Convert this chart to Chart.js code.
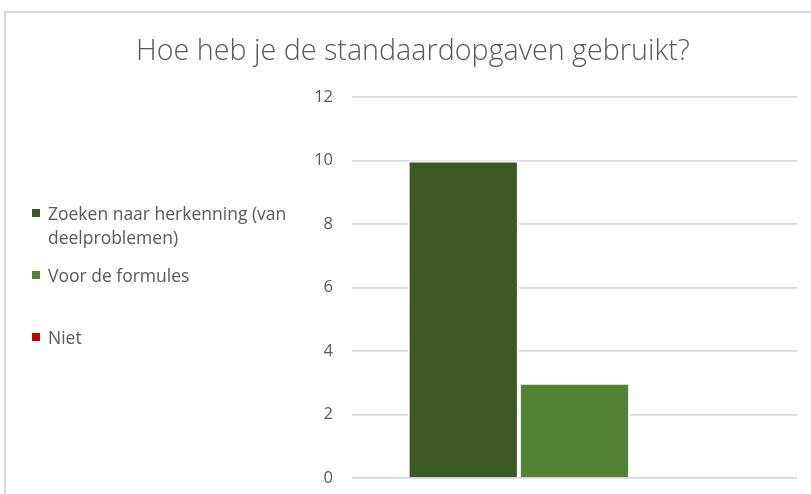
<!DOCTYPE html>
<html>
<head>
<meta charset="utf-8">
<script src="https://cdn.jsdelivr.net/npm/chart.js@4"></script>
<style>
  body { margin: 0; background: #fff; font-family: "Open Sans", sans-serif; overflow: hidden; }
  #frame { position: absolute; left: 4px; top: 11px; width: 900px; height: 600px; border: 2px solid #d9d9d9; }
  #wrap { position: absolute; left: 0; top: 0; width: 811px; height: 507px; }
  #legend { position: absolute; left: 32px; top: 201px; width: 275px; color: #595959; font-size: 17.5px; }
  .item { position: relative; height: 62px; padding-left: 16px; line-height: 24px; }
  .item span.box { position: absolute; left: 0; top: 8px; width: 8px; height: 8px; }
</style>
</head>
<body>
<div id="frame"></div>
<div id="wrap"><canvas id="chart" width="811" height="507"></canvas></div>
<div id="legend"></div>
<script>
const titleText = 'Hoe heb je de standaardopgaven gebruikt?';
const categories = [''];
const seriesNames = ['Zoeken naar herkenning (van deelproblemen)', 'Voor de formules', 'Niet'];
const seriesColors = ['#3b5825', '#548235', '#c00000'];
const zoeken = [10];
const formules = [3];
const niet = [0];
const yTicks = [0, 2, 4, 6, 8, 10, 12];

const seriesValues = [zoeken, formules, niet];

// legend as html so the long label can wrap like the original
const legend = document.getElementById('legend');
seriesNames.forEach((name, i) => {
    const item = document.createElement('div');
    item.className = 'item';
    const box = document.createElement('span');
    box.className = 'box';
    box.style.background = seriesColors[i];
    item.appendChild(box);
    item.appendChild(document.createTextNode(name));
    legend.appendChild(item);
});

const titlePlugin = {
    id: 'centerTitle',
    afterDraw(chart) {
        const c = chart.ctx;
        c.save();
        c.font = '300 28.7px "Open Sans", sans-serif';
        c.fillStyle = '#595959';
        c.textAlign = 'center';
        c.textBaseline = 'middle';
        c.fillText(titleText, 413, 52);
        c.restore();
    }
};

const ctx = document.getElementById('chart').getContext('2d');
new Chart(ctx, {
    type: 'bar',
    data: {
        labels: categories,
        datasets: seriesNames.map((name, i) => ({
            label: name,
            data: seriesValues[i],
            backgroundColor: seriesColors[i],
            borderColor: '#ffffff',
            borderWidth: 2,
            barPercentage: 1,
            categoryPercentage: 0.75
        }))
    },
    options: {
        responsive: false,
        animation: false,
        layout: { padding: { top: 97, right: 14, bottom: 16, left: 0 } },
        plugins: {
            legend: { display: false },
            title: { display: false },
            tooltip: { enabled: false }
        },
        scales: {
            x: {
                display: false
            },
            y: {
                min: 0,
                max: 12,
                afterFit: scale => { scale.width = 352; },
                afterBuildTicks: scale => { scale.ticks = yTicks.map(v => ({ value: v })); },
                border: { display: false },
                grid: { color: '#d9d9d9', lineWidth: 1.75, drawTicks: false },
                ticks: {
                    color: '#595959',
                    padding: 19,
                    font: { family: '"Open Sans", sans-serif', size: 16.5 }
                }
            }
        }
    },
    plugins: [titlePlugin]
});
</script>
</body>
</html>
